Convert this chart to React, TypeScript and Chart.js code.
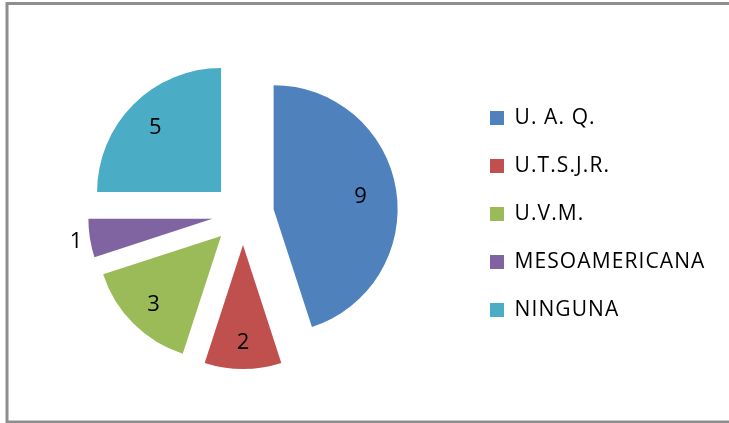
import { useEffect, useRef } from "react";
import { Chart, registerables } from "chart.js";

Chart.register(...registerables);

// ---- data ----
const categories = ["U. A. Q.", "U.T.S.J.R.", "U.V.M.", "MESOAMERICANA", "NINGUNA"];
const values = [9, 2, 3, 1, 5];
const colors = ["#4F81BD", "#C0504D", "#9BBB59", "#8064A2", "#4BACC6"];

// ---- style / layout constants ----
const W = 729;
const H = 423;
const FONT = '"Open Sans", "Noto Sans", sans-serif';
const LEGEND_SIZE = 21;
const LEGEND_SPACING = "1.1px";
const LABEL_SIZE = 22;
const BOX = 14;
const LEGEND_PAD = 27;
const RADIUS = 124;
const EXPLODE = 31;
const CENTER_X = 243;
const LEGEND_BOX_X = 490;
const PAD_T = 60;
const PAD_B = 55;

const explodePlugin = {
  id: "explode",
  afterDatasetUpdate(chart: any, args: any) {
    const meta = chart.getDatasetMeta(args.index);
    meta.data.forEach((arc: any) => {
      const mid = (arc.startAngle + arc.endAngle) / 2;
      arc.x += Math.cos(mid) * EXPLODE;
      arc.y += Math.sin(mid) * EXPLODE;
    });
  },
};

const spacingPlugin = {
  id: "legendSpacing",
  beforeLayout(chart: any) {
    chart.ctx.letterSpacing = LEGEND_SPACING;
  },
  beforeDraw(chart: any) {
    chart.ctx.letterSpacing = LEGEND_SPACING;
  },
};

const labelPlugin = {
  id: "sliceLabels",
  afterDatasetsDraw(chart: any) {
    const ctx = chart.ctx;
    const meta = chart.getDatasetMeta(0);
    const data = chart.data.datasets[0].data as number[];
    const total = data.reduce((a, b) => a + b, 0);
    ctx.save();
    ctx.letterSpacing = "0px";
    ctx.font = `${LABEL_SIZE}px ${FONT}`;
    ctx.fillStyle = "#000";
    ctx.textAlign = "center";
    ctx.textBaseline = "middle";
    meta.data.forEach((arc: any, i: number) => {
      const mid = (arc.startAngle + arc.endAngle) / 2;
      const frac = data[i] / total;
      const dist = frac < 0.08 ? arc.outerRadius + 14 : arc.outerRadius * (0.8 - 0.2 * frac);
      const x = arc.x + Math.cos(mid) * dist;
      const y = arc.y + Math.sin(mid) * dist;
      ctx.fillText(String(data[i]), x, y + 1);
    });
    ctx.restore();
  },
};

const framePlugin = {
  id: "frame",
  beforeDraw(chart: any) {
    const ctx = chart.ctx;
    ctx.save();
    ctx.strokeStyle = "#8e8e8e";
    ctx.lineWidth = 3;
    ctx.beginPath();
    ctx.moveTo(W + 5, 3.5);
    ctx.lineTo(7, 3.5);
    ctx.lineTo(7, 422);
    ctx.lineTo(W + 5, 422);
    ctx.stroke();
    ctx.restore();
  },
};

export default function App() {
  const ref = useRef<HTMLCanvasElement>(null);

  useEffect(() => {
    if (!ref.current) return;
    const mctx: any = document.createElement("canvas").getContext("2d")!;
    mctx.font = `${LEGEND_SIZE}px ${FONT}`;
    mctx.letterSpacing = LEGEND_SPACING;
    const maxText = Math.max(...categories.map((c) => mctx.measureText(c).width));
    const legendWidth = LEGEND_PAD + BOX + LEGEND_SIZE / 2 + maxText + 10;
    const legendLeft = LEGEND_BOX_X - LEGEND_PAD;
    const padL = 2 * CENTER_X - legendLeft;
    const padR = Math.max(0, W - legendLeft - legendWidth);

    const chart = new Chart(ref.current, {
      type: "pie",
      data: {
        labels: categories,
        datasets: [
          {
            data: values,
            backgroundColor: colors,
            borderWidth: 0,
            hoverOffset: 0,
          },
        ],
      },
      options: {
        animation: false,
        responsive: true,
        maintainAspectRatio: false,
        radius: RADIUS,
        layout: { padding: { left: padL, right: padR, top: PAD_T, bottom: PAD_B } },
        plugins: {
          legend: {
            position: "right",
            labels: {
              boxWidth: BOX,
              boxHeight: BOX,
              padding: LEGEND_PAD,
              color: "#000",
              font: { family: FONT, size: LEGEND_SIZE },
            },
          },
          tooltip: { enabled: false },
        },
        events: [],
      } as any,
      plugins: [spacingPlugin, framePlugin, explodePlugin, labelPlugin],
    });
    return () => chart.destroy();
  }, []);

  return (
    <div style={{ position: "fixed", left: 0, top: 0, width: W, height: H, background: "#fff" }}>
      <canvas ref={ref} />
    </div>
  );
}
